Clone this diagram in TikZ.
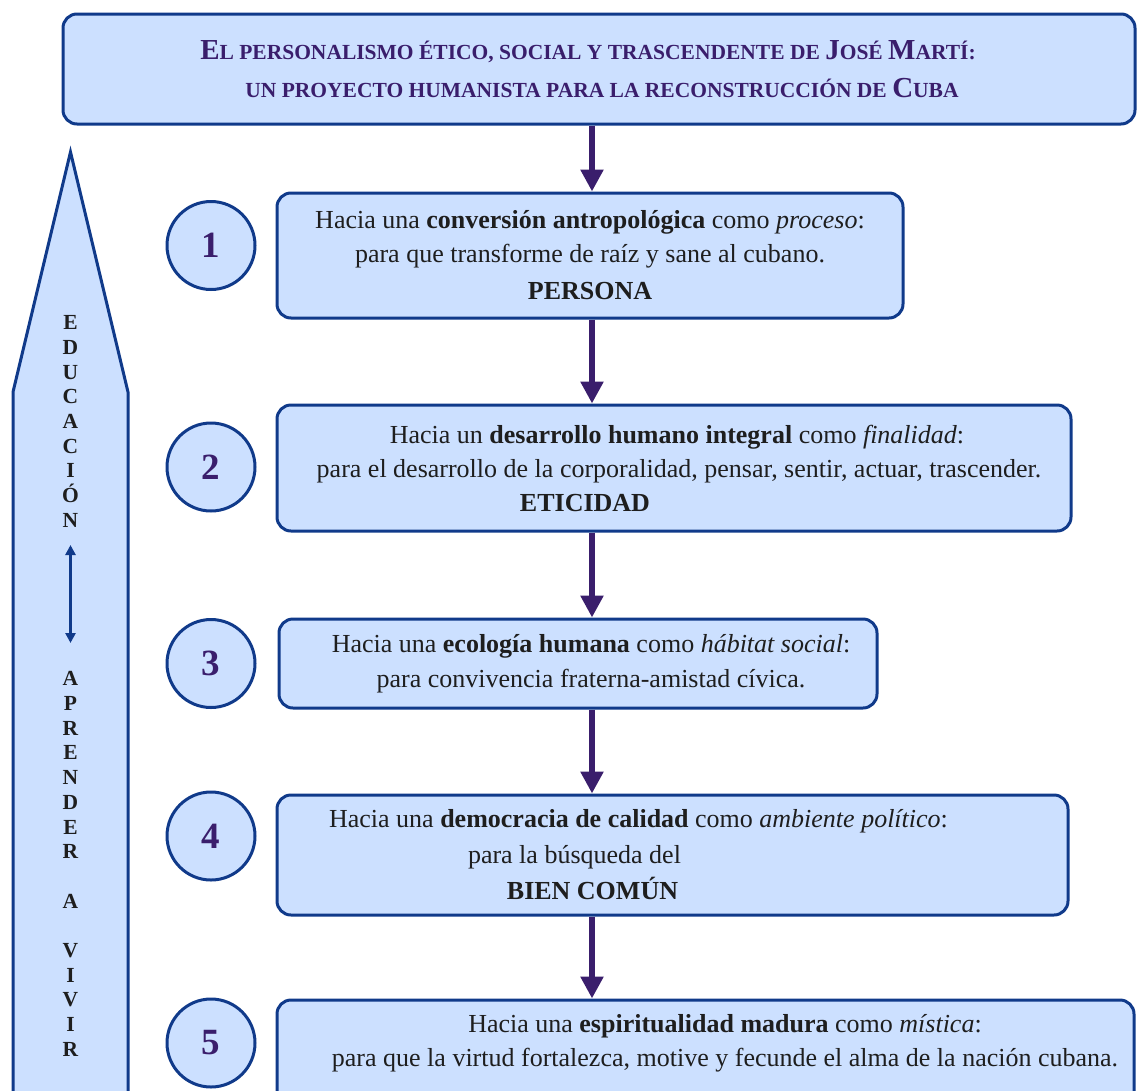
\documentclass[tikz,border=0pt]{standalone}
\usepackage{fontspec}
\setmainfont{Liberation Serif}
\usetikzlibrary{arrows.meta}
\definecolor{boxfill}{RGB}{204,224,255}
\definecolor{boxline}{RGB}{16,58,138}
\definecolor{purp}{RGB}{58,30,108}
\definecolor{txt}{RGB}{30,30,30}
\newcommand\bigC[1]{{\fontsize{29}{38}\selectfont #1}}
\newcommand\smC[1]{{\fontsize{21.5}{38}\selectfont #1}}
\newcommand\shiftln[2]{\hspace*{#1}#2}
\begin{document}
\begin{tikzpicture}[x=1pt,y=-1pt,
  box/.style={draw=boxline, fill=boxfill, line width=3pt, rounded corners=14pt,
    align=center, text=txt, font=\fontsize{26}{34}\selectfont, inner sep=0pt},
  plain/.style={align=center, text=txt, font=\fontsize{26}{34}\selectfont, inner sep=0pt},
  num/.style={circle, draw=boxline, fill=boxfill, line width=3pt, minimum size=88pt,
    inner sep=0pt, text=purp, font=\fontsize{37}{37}\selectfont\bfseries},
  flow/.style={draw=purp, line width=6pt, -{Triangle[width=22pt,length=22pt]}},
  vlet/.style={align=center, text=txt, font=\fontsize{21.5}{24.7}\selectfont\bfseries, inner sep=0pt}
  ]
\useasboundingbox (0,0) rectangle (1137,1090);
\clip (0,0) rectangle (1137,1090);

% left arrow shape
\draw[draw=boxline, fill=boxfill, line width=3pt, line join=miter]
  (13,1110) -- (13,392) -- (70.5,152) -- (128,392) -- (128,1110);

\node[vlet] (edu) at (70.5,421.5) {E\\D\\U\\C\\A\\C\\I\\Ó\\N};
\node[vlet] (apr) at (70.5,864) {A\\P\\R\\E\\N\\D\\E\\R\\[24.7pt]A\\[24.7pt]V\\I\\V\\I\\R};
\coordinate (da1) at (70.5,545);
\coordinate (da2) at (70.5,643);
\draw[draw=boxline, line width=2.5pt, {Triangle[width=10pt,length=10pt]}-{Triangle[width=10pt,length=10pt]}] (da1) -- (da2);

% title
\node[box, minimum width=1072pt, minimum height=110pt, text=purp,
      font=\fontsize{21.5}{38}\selectfont\bfseries] (title) at (599,69)
 {\shiftln{-22pt}{\bigC{E}\smC{L PERSONALISMO ÉTICO, SOCIAL Y TRASCENDENTE DE }\bigC{J}\smC{OSÉ }\bigC{M}\smC{ARTÍ:}}\\
  \shiftln{6pt}{\smC{UN PROYECTO HUMANISTA PARA LA RECONSTRUCCIÓN DE }\bigC{C}\smC{UBA}}};

% boxes
\node[box, minimum width=626pt, minimum height=125pt] (b1) at (590,255.5)
 {Hacia una \textbf{conversión antropológica} como \textit{proceso}:\\
  para que transforme de raíz y sane al cubano.\\[3pt]
  \textbf{PERSONA}};
\node[box, minimum width=794pt, minimum height=126pt] (b2) at (674,468)
 {\shiftln{6pt}{Hacia un \textbf{desarrollo humano integral} como \textit{finalidad}:}\\
  \shiftln{10pt}{para el desarrollo de la corporalidad, pensar, sentir, actuar, trascender.}\\
  \shiftln{-178pt}{\textbf{ETICIDAD}}};
\node[box, minimum width=598pt, minimum height=89pt] (b3) at (578,663.5)
 {\shiftln{26pt}{Hacia una \textbf{ecología humana} como \textit{hábitat social}:}\\[1pt]
  \shiftln{26pt}{para convivencia fraterna-amistad cívica.}};
\node[box, minimum width=791pt, minimum height=120pt] (b4) at (672.5,855)
 {\shiftln{-68pt}{Hacia una \textbf{democracia de calidad} como \textit{ambiente político}:}\\[2pt]
  \shiftln{-196pt}{para la búsqueda del}\\[2pt]
  \shiftln{-160pt}{\textbf{BIEN COMÚN}}};
\node[box, minimum width=857pt, minimum height=110pt] (b5) at (705.5,1055) {};
\node[plain] (t5) at (725,1043)
 {Hacia una \textbf{espiritualidad madura} como \textit{mística}:\\
  para que la virtud fortalezca, motive y fecunde el alma de la nación cubana.};

% circles
\node[num] (n1) at (211,245.5) {1};
\node[num] (n2) at (211,467) {2};
\node[num] (n3) at (211,663.5) {3};
\node[num] (n4) at (211,836) {4};
\node[num] (n5) at (211,1043) {5};

% arrows
\coordinate (ax) at (592,0);
\draw[flow] (title.south -| ax) -- (b1.north -| ax);
\draw[flow] (b1.south -| ax) -- (b2.north -| ax);
\draw[flow] (b2.south -| ax) -- (b3.north -| ax);
\draw[flow] (b3.south -| ax) -- (b4.north -| ax);
\draw[flow] (b4.south -| ax) -- (b5.north -| ax);
\end{tikzpicture}
\end{document}
